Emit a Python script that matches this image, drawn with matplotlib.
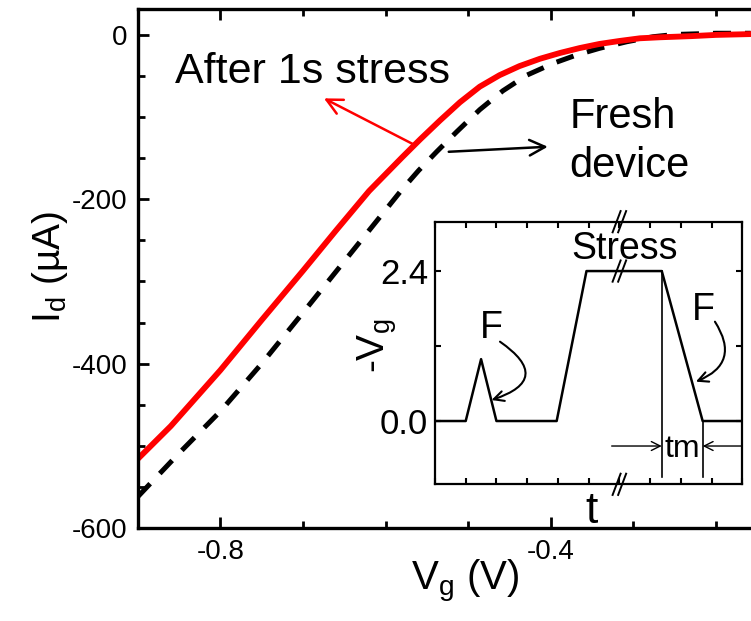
import matplotlib
matplotlib.use('Agg')
import matplotlib.pyplot as plt
from matplotlib.ticker import MultipleLocator, FixedLocator

plt.rcParams['font.family'] = ['Liberation Sans', 'DejaVu Sans']
plt.rcParams['mathtext.fontset'] = 'custom'
plt.rcParams['mathtext.rm'] = 'Liberation Sans'
plt.rcParams['mathtext.it'] = 'Liberation Sans'
plt.rcParams['mathtext.default'] = 'regular'

## Main Id-Vg curves
vg_stress = [-0.90, -0.86, -0.80, -0.75, -0.70, -0.66, -0.62, -0.58, -0.558,
             -0.534, -0.51, -0.486, -0.462, -0.438, -0.413, -0.389, -0.365,
             -0.341, -0.317, -0.292, -0.268, -0.23, -0.20, -0.158]
id_stress = [-516, -476, -408, -347, -287, -238, -190, -149, -127,
             -104, -82, -63, -49, -38, -29, -22, -16,
             -11, -7.4, -4.1, -2.9, -1.5, 0, 1]

vg_fresh = [-0.90, -0.85, -0.80, -0.75, -0.70, -0.66, -0.62, -0.58, -0.56,
            -0.538, -0.514, -0.486, -0.458, -0.429, -0.397, -0.369, -0.341,
            -0.308, -0.276, -0.25, -0.20, -0.158]
id_fresh = [-562, -509, -458, -400, -338, -288, -238, -188, -165,
            -142, -118, -91, -68, -49, -34.6, -24.5, -16.3,
            -8.3, -2.2, 0.5, 2, 2]

## Inset: gate waveform (arbitrary time units)
t_wave = [0, 1.0, 1.5, 2.0, 3.96, 4.93, 7.38, 8.71, 10]
vg_wave = [0, 0, 0.99, 0, 0, 2.4, 2.4, 0, 0]
t_break = 6.0
t_meas = [7.38, 8.71]

fig = plt.figure(figsize=(7.51, 6.21), dpi=100)
ax = fig.add_axes([0.184, 0.1498, 0.816, 0.8362])

ax.plot(vg_fresh, id_fresh, color='black', lw=3.6,
        linestyle=(0, (3.6, 2.8)), dash_capstyle='butt')
ax.plot(vg_stress, id_stress, color='#ff0000', lw=4.2,
        solid_joinstyle='round', solid_capstyle='round')

ax.set_xlim(-0.8995, -0.1576)
ax.set_ylim(-600, 31.9)
ax.xaxis.set_major_locator(FixedLocator([-0.8, -0.4]))
ax.xaxis.set_minor_locator(MultipleLocator(0.1))
ax.set_xticklabels(['-0.8', '-0.4'])
ax.set_yticks([-600, -400, -200, 0])
ax.set_yticklabels(['-600', '-400', '-200', '0'])
ax.yaxis.set_minor_locator(MultipleLocator(50))
ax.tick_params(which='both', direction='in', top=True, right=False, width=2,
               labelsize=20, pad=8)
ax.tick_params(which='major', length=8)
ax.tick_params(which='minor', length=5)
for s in ax.spines.values():
    s.set_linewidth(2.4)
ax.spines['right'].set_visible(False)

ax.set_xlabel('V$_g$ (V)', fontsize=29)
ax.set_ylabel('I$_d$ (µA)', fontsize=28)
ax.xaxis.set_label_coords(0.533, -0.058)
ax.yaxis.set_label_coords(-0.111, 0.5026)

ax.text(-0.855, -58.5, 'After 1s stress', fontsize=31, va='baseline')
ax.text(-0.3772, -113.3, 'Fresh', fontsize=30, va='baseline')
ax.text(-0.3772, -173, 'device', fontsize=30, va='baseline')
ax.annotate('', xy=(-0.6746, -77.2), xytext=(-0.567, -132.8),
            arrowprops=dict(arrowstyle='->', color='#ff0000', lw=1.8,
                            mutation_scale=28, shrinkA=0, shrinkB=0))
ax.annotate('', xy=(-0.4036, -136.1), xytext=(-0.5235, -142.2),
            arrowprops=dict(arrowstyle='->', color='black', lw=1.8,
                            mutation_scale=28, shrinkA=0, shrinkB=0))

## Inset
ins = fig.add_axes([0.5792, 0.2201, 0.4092, 0.4229])
ins.plot(t_wave, vg_wave, color='black', lw=1.8)
ins.set_xlim(0, 10)
ins.set_ylim(-1.013, 3.19)
ins.xaxis.set_major_locator(MultipleLocator(1))
ins.set_xticklabels([])
ins.set_yticks([0, 2.4])
ins.set_yticklabels(['0.0', '2.4'])
ins.yaxis.set_minor_locator(FixedLocator([1.2]))
ins.tick_params(which='both', direction='in', top=True, right=True, width=1.5,
                length=4, labelsize=25, pad=5)
for s in ins.spines.values():
    s.set_linewidth(1.6)

# break marks
for v in (3.19, 2.4, -1.013):
    for off in (-0.09, 0.09):
        ins.plot([t_break + off - 0.13, t_break + off + 0.13], [v - 0.17, v + 0.17],
                 color='black', lw=1.4, clip_on=False)

# measurement window
ins.plot([t_meas[0], t_meas[0]], [2.4, -0.89], color='black', lw=1.2)
ins.plot([t_meas[1], t_meas[1]], [0, -0.89], color='black', lw=1.2)
ins.annotate('', xy=(t_meas[0], -0.4), xytext=(5.75, -0.4),
             arrowprops=dict(arrowstyle='->', color='black', lw=1.0,
                             mutation_scale=16, shrinkA=0, shrinkB=0))
ins.annotate('', xy=(t_meas[1], -0.4), xytext=(10, -0.4),
             arrowprops=dict(arrowstyle='->', color='black', lw=1.0,
                             mutation_scale=16, shrinkA=0, shrinkB=0))
ins.text(8.06, -0.576, 'tm', fontsize=23, ha='center', va='baseline')

ins.text(6.18, 2.60, 'Stress', fontsize=27, ha='center', va='baseline')
ins.text(1.82, 1.323, 'F', fontsize=27, ha='center', va='baseline')
ins.text(8.72, 1.616, 'F', fontsize=27, ha='center', va='baseline')
ins.annotate('', xy=(1.84, 0.336), xytext=(2.115, 1.27),
             arrowprops=dict(arrowstyle='->', color='black', lw=1.5,
                             mutation_scale=18, shrinkA=0, shrinkB=0,
                             connectionstyle='arc3,rad=-1.0'))
ins.annotate('', xy=(8.49, 0.63), xytext=(9.11, 1.59),
             arrowprops=dict(arrowstyle='->', color='black', lw=1.5,
                             mutation_scale=18, shrinkA=0, shrinkB=0,
                             connectionstyle='arc3,rad=-0.6'))

ins.text(5.11, -1.632, 't', fontsize=32, ha='center', va='baseline', clip_on=False)
fig.text(377 / 751, 1 - 346 / 621, '-V$_g$', fontsize=28, rotation=90,
         ha='center', va='center')

fig.savefig('out.png', dpi=100)
